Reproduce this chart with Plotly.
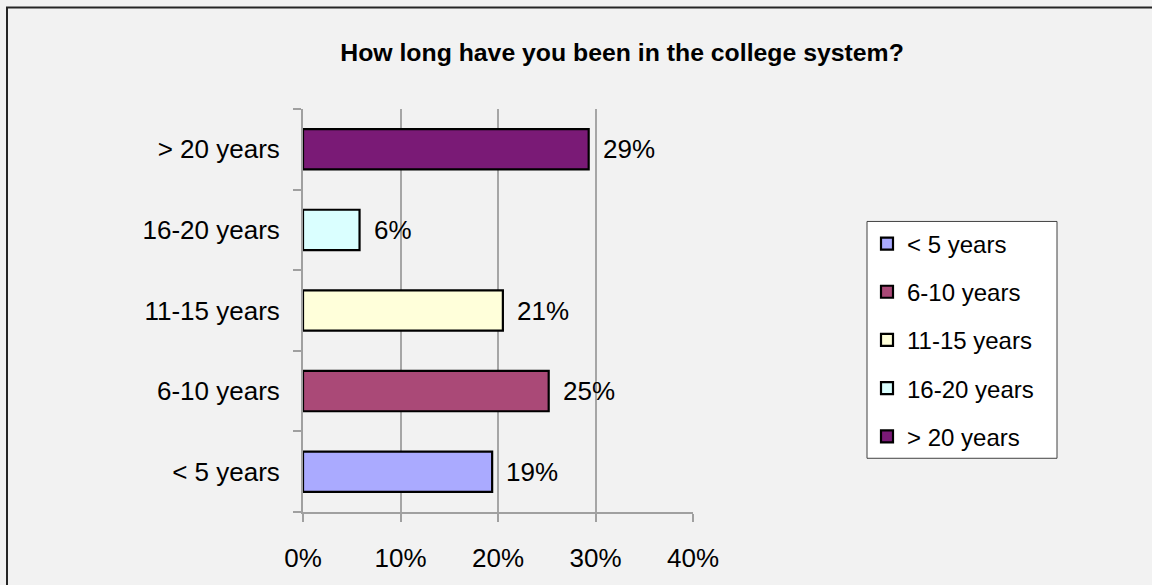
import plotly.graph_objects as go

categories = ["< 5 years", "6-10 years", "11-15 years", "16-20 years", "> 20 years"]
values = [0.194, 0.252, 0.205, 0.058, 0.293]
labels = ["19%", "25%", "21%", "6%", "29%"]
colors = ["#AAAAFF", "#AA4977", "#FFFFDA", "#DAFFFF", "#7A1A76"]
x_ticks = [0, 0.1, 0.2, 0.3, 0.4]
x_tick_text = ["0%", "10%", "20%", "30%", "40%"]
title = "How long have you been in the college system?"

W, H = 1152, 585
L, R, T, B = 303, 693, 109, 514
font_fam = "Liberation Sans, Arial, sans-serif"


def px_x(p):
    return (p - L) / (R - L)


def px_y(p):
    return (B - p) / (B - T)


fig = go.Figure()
for c, v, col in zip(categories, values, colors):
    fig.add_trace(go.Bar(
        x=[v], y=[c], orientation="h", name=c, legendgroup=c,
        marker=dict(color=col, line=dict(color="#000000", width=2.2)),
        hoverinfo="skip",
    ))

for c, v, t in zip(categories, values, labels):
    fig.add_annotation(x=v, y=c, text=t, showarrow=False, xanchor="left",
                       xshift=12, font=dict(size=26, color="#000000", family=font_fam))

fig.update_layout(
    width=W, height=H,
    margin=dict(l=L, r=W - R, t=T, b=H - B, pad=0),
    paper_bgcolor="#F2F2F2", plot_bgcolor="#F2F2F2",
    barmode="overlay", bargap=0.5,
    font=dict(family=font_fam, size=26, color="#000000"),
    title=dict(text="<b>" + title + "</b>", x=622 / W, xref="container",
               xanchor="center", y=1 - 52 / H, yref="container", yanchor="middle",
               font=dict(size=24.8, family=font_fam, color="#000000")),
    showlegend=True,
    legend=dict(x=px_x(867), y=px_y(222), xanchor="left", yanchor="top",
                xref="paper", yref="paper",
                bgcolor="rgba(0,0,0,0)", borderwidth=0,
                font=dict(size=24, family=font_fam, color="#000000"),
                traceorder="grouped", tracegroupgap=14, itemwidth=30),
    xaxis=dict(range=[0, 0.4], tickvals=x_ticks, ticktext=x_tick_text,
               showgrid=True, gridcolor="#A6A6A6", gridwidth=1.5,
               showline=True, linecolor="#A0A0A0", linewidth=2,
               ticks="outside", ticklen=8, tickwidth=2, tickcolor="#A0A0A0",
               ticklabelstandoff=14, zeroline=False, fixedrange=True,
               tickfont=dict(size=26)),
    yaxis=dict(categoryorder="array", categoryarray=categories,
               range=[-0.5, 4.5], showgrid=False,
               showline=True, linecolor="#A0A0A0", linewidth=2,
               ticks="outside", ticklen=8, tickwidth=2, tickcolor="#A0A0A0",
               tickson="boundaries", ticklabelstandoff=16, zeroline=False,
               fixedrange=True, tickfont=dict(size=26)),
)

# outer chart border (extends beyond the visible page on right and bottom)
fig.add_shape(type="rect", xref="paper", yref="paper",
              x0=px_x(7), x1=px_x(1300), y0=px_y(700), y1=px_y(7),
              line=dict(color="#262626", width=2), fillcolor="rgba(0,0,0,0)",
              layer="below")
# legend box
fig.add_shape(type="rect", xref="paper", yref="paper",
              x0=px_x(867), x1=px_x(1057), y0=px_y(460), y1=px_y(222),
              line=dict(color="#404040", width=1), fillcolor="#FFFFFF",
              layer="below")

fig.write_html("out.html", config={"displayModeBar": False},
               post_script="document.body.style.margin='0';document.body.style.overflow='hidden';")
